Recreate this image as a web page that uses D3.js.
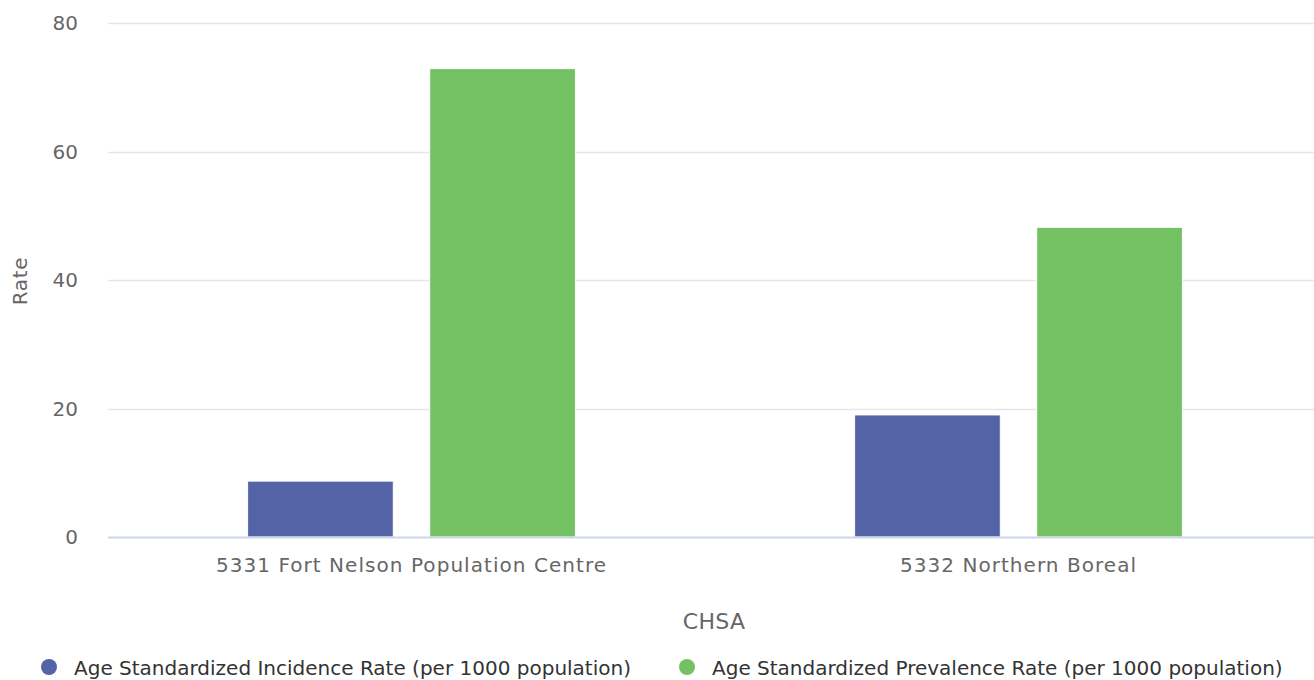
<!DOCTYPE html>
<html><head><meta charset="utf-8">
<script src="https://cdn.jsdelivr.net/npm/d3@7"></script>
<style>
html,body{margin:0;padding:0;background:#fff;}
text{font-family:"DejaVu Sans",Verdana,sans-serif;}
</style></head>
<body><svg id="c" width="1314" height="680"></svg>
<script>
const categories = ["5331 Fort Nelson Population Centre", "5332 Northern Boreal"];
const seriesNames = ["Age Standardized Incidence Rate (per 1000 population)", "Age Standardized Prevalence Rate (per 1000 population)"];
const incidence = [8.7, 19.0];
const prevalence = [72.9, 48.2];
const yTicks = [0, 20, 40, 60, 80];
const colors = ["#5462a6", "#74c163"];

(function () {
const seriesValues = [incidence, prevalence];
const svg = d3.select("#c");
const pLeft = 108, pRight = 1322, pTop = 23, pBottom = 537;

const x0 = d3.scaleBand().domain(categories).range([pLeft, pRight]).paddingInner(0.4).paddingOuter(0.2);
const x1 = d3.scaleBand().domain(seriesNames).range([0, x0.bandwidth()]).paddingInner(0.2).paddingOuter(0.1);
const y = d3.scaleLinear().domain([0, 80]).range([pBottom, pTop]);

// gridlines
svg.append("g").selectAll("line").data(yTicks.filter(d => d !== 0)).join("line")
  .attr("x1", pLeft).attr("x2", 1314)
  .attr("y1", d => Math.round(y(d)) + 0.5).attr("y2", d => Math.round(y(d)) + 0.5)
  .attr("stroke", "#e6e6e6").attr("stroke-width", 1.5);

// y axis labels
const yAxis = d3.axisLeft(y).tickValues(yTicks).tickSize(0).tickPadding(0);
const ya = svg.append("g").attr("transform", `translate(78,0)`).call(yAxis);
ya.select(".domain").remove();
ya.selectAll("text").attr("fill", "#666").attr("font-size", 20)
  .attr("dy", "0.33em").attr("font-family", "DejaVu Sans");

// bars
const groups = svg.append("g").selectAll("g").data(categories).join("g")
  .attr("transform", d => `translate(${x0(d)},0)`);
groups.selectAll("rect").data((c, i) => seriesNames.map((s, j) => ({s, j, v: seriesValues[j][i]}))).join("rect")
  .attr("x", d => x1(d.s)).attr("width", x1.bandwidth())
  .attr("y", d => y(d.v)).attr("height", d => y(0) - y(d.v))
  .attr("fill", d => colors[d.j]).attr("stroke", "#fff").attr("stroke-width", 1);

// x axis
const xAxis = d3.axisBottom(x0).tickSize(0).tickPadding(0);
const xa = svg.append("g").attr("transform", `translate(0,${pBottom})`).call(xAxis);
xa.select(".domain").attr("d", `M${pLeft},0.5H1314`).attr("stroke", "#ccd6eb").attr("stroke-width", 2);
xa.selectAll("text").attr("fill", "#666").attr("font-size", 20).attr("letter-spacing", 1.05)
  .attr("y", 35).attr("dy", 0).attr("font-family", "DejaVu Sans");

// axis titles
svg.append("text").attr("x", 714).attr("y", 629).attr("text-anchor", "middle").attr("letter-spacing", 0.3)
  .attr("fill", "#666").attr("font-size", 22).text("CHSA");
svg.append("text").attr("transform", "translate(27,281) rotate(-90)").attr("text-anchor", "middle")
  .attr("letter-spacing", 0.7).attr("fill", "#666").attr("font-size", 20).text("Rate");

// legend
const legendX = [49, 687];
const lg = svg.append("g").selectAll("g").data(seriesNames).join("g")
  .attr("transform", (d, i) => `translate(${legendX[i]},667)`);
lg.append("circle").attr("r", 8).attr("fill", (d, i) => colors[i]);
lg.append("text").attr("x", 25).attr("y", 7.5).attr("fill", "#333").attr("font-size", 20)
  .text(d => d);
})();
</script></body></html>
